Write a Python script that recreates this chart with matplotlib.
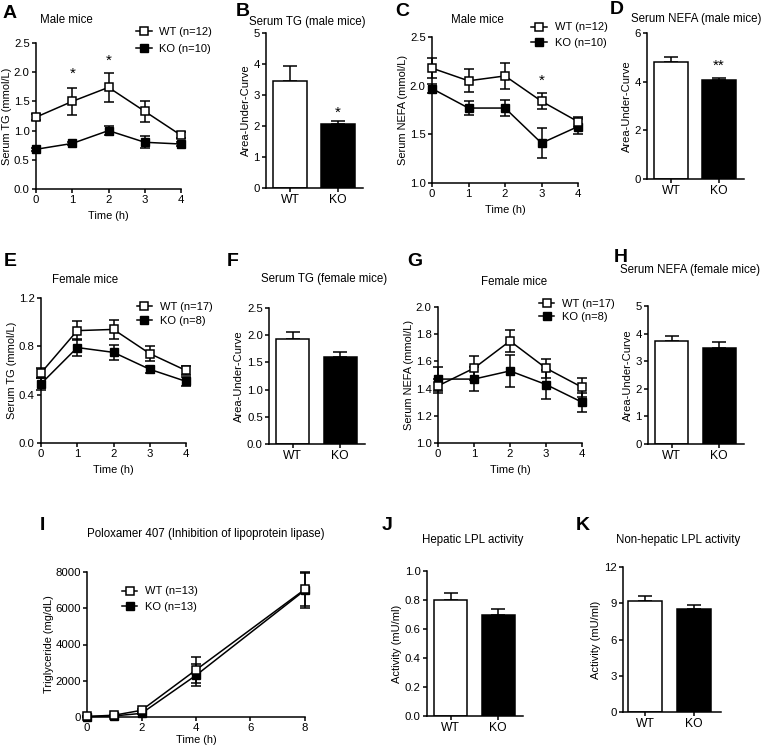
import numpy as np
import matplotlib
matplotlib.use("Agg")
import matplotlib.pyplot as plt
from matplotlib.lines import Line2D

plt.rcParams['font.family'] = ['Liberation Sans', 'DejaVu Sans']
plt.rcParams['font.size'] = 7.5
plt.rcParams['axes.linewidth'] = 1.1
plt.rcParams['xtick.major.width'] = 1.1
plt.rcParams['ytick.major.width'] = 1.1
plt.rcParams['xtick.major.size'] = 3
plt.rcParams['ytick.major.size'] = 3

W, H = 763, 752

# ---- datos ----
time_h = [0, 1, 2, 3, 4]

# A: TG machos
tg_m_wt = [1.23, 1.50, 1.74, 1.33, 0.92]
tg_m_wt_err = [0.05, 0.23, 0.25, 0.18, 0.05]
tg_m_ko = [0.68, 0.78, 1.00, 0.80, 0.77]
tg_m_ko_err = [0.03, 0.03, 0.08, 0.10, 0.03]

# C: NEFA machos
nefa_m_wt = [2.18, 2.05, 2.10, 1.84, 1.63]
nefa_m_wt_err = [0.10, 0.12, 0.13, 0.08, 0.05]
nefa_m_ko = [1.97, 1.77, 1.77, 1.41, 1.58]
nefa_m_ko_err = [0.05, 0.07, 0.08, 0.15, 0.08]

# E: TG hembras
tg_f_wt = [0.58, 0.93, 0.94, 0.74, 0.60]
tg_f_wt_err = [0.04, 0.08, 0.08, 0.06, 0.04]
tg_f_ko = [0.49, 0.79, 0.75, 0.61, 0.51]
tg_f_ko_err = [0.05, 0.07, 0.06, 0.03, 0.04]

# G: NEFA hembras
nefa_f_wt = [1.42, 1.55, 1.75, 1.55, 1.41]
nefa_f_wt_err = [0.05, 0.09, 0.08, 0.07, 0.07]
nefa_f_ko = [1.47, 1.47, 1.53, 1.43, 1.30]
nefa_f_ko_err = [0.09, 0.09, 0.12, 0.11, 0.07]

# I: Poloxamer 407
time_p407 = [0, 1, 2, 4, 8]
p407_wt = [30, 100, 370, 2600, 7050]
p407_wt_err = [20, 30, 60, 700, 900]
p407_ko = [20, 60, 200, 2300, 7000]
p407_ko_err = [15, 20, 50, 600, 1000]

# Barras (AUC y actividad)
grupos = ['WT', 'KO']
auc_tg_m = [3.45, 2.05]
auc_tg_m_err = [0.50, 0.12]
auc_nefa_m = [4.82, 4.05]
auc_nefa_m_err = [0.20, 0.12]
auc_tg_f = [1.93, 1.60]
auc_tg_f_err = [0.13, 0.09]
auc_nefa_f = [3.75, 3.48]
auc_nefa_f_err = [0.15, 0.20]
lpl_hep = [0.80, 0.70]
lpl_hep_err = [0.045, 0.04]
lpl_nohep = [9.2, 8.55]
lpl_nohep_err = [0.4, 0.3]

TICK_FS = 8.2
LABEL_FS = 7.6
TITLE_FS = 8.3
LEG_FS = 8

fig = plt.figure(figsize=(W / 100, H / 100), dpi=100)


def crear_ejes(left, right, top, bottom):
    ax = fig.add_axes([left / W, 1 - bottom / H, (right - left) / W, (bottom - top) / H])
    ax.spines['top'].set_visible(False)
    ax.spines['right'].set_visible(False)
    ax.tick_params(direction='out', pad=1.5, labelsize=TICK_FS)
    return ax


def grafico_lineas(ax, x, wt, wt_err, ko, ko_err, pad_x=4):
    ax.errorbar(x, ko, yerr=ko_err, color='black', marker='s', markersize=5.5,
                mfc='black', mec='black', lw=1.1, capsize=3.5, capthick=1.1, elinewidth=1.1,
                clip_on=False, zorder=3)
    ax.errorbar(x, wt, yerr=wt_err, color='black', marker='s', markersize=6,
                mfc='white', mec='black', mew=1.1, lw=1.1, capsize=3.5, capthick=1.1,
                elinewidth=1.1, clip_on=False, zorder=4)
    ax.set_xlabel('Time (h)', labelpad=pad_x, fontsize=LABEL_FS + 0.3)


def leyenda(ax, n_wt, n_ko, bbox, espacio):
    h_wt = Line2D([], [], color='black', lw=1.1, marker='s', markersize=6,
                  mfc='white', mec='black', mew=1.1)
    h_ko = Line2D([], [], color='black', lw=1.1, marker='s', markersize=5.5,
                  mfc='black', mec='black')
    ax.legend([h_wt, h_ko], [f'WT (n={n_wt})', f'KO (n={n_ko})'], loc='upper left',
              bbox_to_anchor=bbox, frameon=False, handlelength=1.4, handletextpad=0.7,
              labelspacing=espacio, fontsize=LEG_FS, borderaxespad=0, borderpad=0)


def grafico_barras(ax, vals, errs, ylim, yticks, ylabel='Area-Under-Curve'):
    pos = np.arange(len(grupos))
    ax.bar(pos, vals, width=0.69, color=['white', 'black'], edgecolor='black',
           linewidth=1.1, zorder=2)
    ax.errorbar(pos, vals, yerr=[[0, 0], errs], fmt='none', ecolor='black',
                elinewidth=1.1, capsize=5, capthick=1.1, zorder=1)
    ax.set_xlim(-0.5, 1.52)
    ax.set_ylim(*ylim)
    ax.set_yticks(yticks)
    ax.set_xticks(pos)
    ax.set_xticklabels(grupos, fontsize=TICK_FS + 0.5)
    ax.set_ylabel(ylabel, labelpad=2, fontsize=LABEL_FS + 0.4)


def letra(x, y, s):
    fig.text(x / W, 1 - y / H, s, fontsize=14, fontweight='bold', ha='center', va='center')


def titulo(x, y, s):
    fig.text(x / W, 1 - y / H, s, fontsize=TITLE_FS, ha='center', va='center')


# A
axA = crear_ejes(36, 181, 43, 189)
grafico_lineas(axA, time_h, tg_m_wt, tg_m_wt_err, tg_m_ko, tg_m_ko_err)
axA.set_xlim(0, 4)
axA.set_ylim(0, 2.5)
axA.set_yticks([0.0, 0.5, 1.0, 1.5, 2.0, 2.5])
axA.set_yticklabels(['0.0', '0.5', '1.0', '1.5', '2.0', '2.5'])
axA.set_ylabel('Serum TG (mmol/L)', labelpad=1, fontsize=LABEL_FS + 0.3)
axA.text(1, 1.97, '*', ha='center', va='center', fontsize=11)
axA.text(2, 2.2, '*', ha='center', va='center', fontsize=11)
leyenda(axA, 12, 10, (0.69, 1.11), 0.6)

# B
axB = crear_ejes(266, 363, 33, 188)
grafico_barras(axB, auc_tg_m, auc_tg_m_err, (0, 5), [0, 1, 2, 3, 4, 5])
axB.text(1, 2.42, '*', ha='center', va='center', fontsize=11)

# C
axC = crear_ejes(432, 578, 37, 183)
grafico_lineas(axC, time_h, nefa_m_wt, nefa_m_wt_err, nefa_m_ko, nefa_m_ko_err)
axC.set_xlim(0, 4)
axC.set_ylim(1.0, 2.5)
axC.set_yticks([1.0, 1.5, 2.0, 2.5])
axC.set_ylabel('Serum NEFA (mmol/L)', labelpad=1, fontsize=LABEL_FS + 0.3)
axC.text(3, 2.05, '*', ha='center', va='center', fontsize=11)
leyenda(axC, 12, 10, (0.68, 1.10), 0.5)

# D
axD = crear_ejes(647, 744, 33, 179)
grafico_barras(axD, auc_nefa_m, auc_nefa_m_err, (0, 6), [0, 2, 4, 6])
axD.text(1, 4.65, '**', ha='center', va='center', fontsize=11)

# E
axE = crear_ejes(41, 186, 298, 443)
grafico_lineas(axE, time_h, tg_f_wt, tg_f_wt_err, tg_f_ko, tg_f_ko_err)
axE.set_xlim(0, 4)
axE.set_ylim(0, 1.2)
axE.set_yticks([0.0, 0.4, 0.8, 1.2])
axE.set_ylabel('Serum TG (mmol/L)', labelpad=1, fontsize=LABEL_FS + 0.3)
leyenda(axE, 17, 8, (0.66, 0.97), 0.3)

# F
axF = crear_ejes(269, 365, 308, 444)
grafico_barras(axF, auc_tg_f, auc_tg_f_err, (0, 2.5), [0.0, 0.5, 1.0, 1.5, 2.0, 2.5])
axF.set_yticklabels(['0.0', '0.5', '1.0', '1.5', '2.0', '2.5'])

# G
axG = crear_ejes(438, 582, 307, 443)
grafico_lineas(axG, time_h, nefa_f_wt, nefa_f_wt_err, nefa_f_ko, nefa_f_ko_err)
axG.set_xlim(0, 4)
axG.set_ylim(1.0, 2.0)
axG.set_yticks([1.0, 1.2, 1.4, 1.6, 1.8, 2.0])
axG.set_ylabel('Serum NEFA (mmol/L)', labelpad=1, fontsize=LABEL_FS + 0.3)
leyenda(axG, 17, 8, (0.70, 1.06), 0.3)

# H
axH = crear_ejes(648, 744, 306, 444)
grafico_barras(axH, auc_nefa_f, auc_nefa_f_err, (0, 5), [0, 1, 2, 3, 4, 5])

# I
axI = crear_ejes(87, 305, 572, 717)
grafico_lineas(axI, time_p407, p407_wt, p407_wt_err, p407_ko, p407_ko_err, pad_x=1)
axI.set_xlim(0, 8)
axI.set_ylim(0, 8000)
axI.set_xticks([0, 2, 4, 6, 8])
axI.set_yticks([0, 2000, 4000, 6000, 8000])
axI.set_ylabel('Triglyceride (mg/dL)', labelpad=1, fontsize=LABEL_FS + 0.3)
leyenda(axI, 13, 13, (0.16, 0.90), 0.5)

# J
axJ = crear_ejes(427, 523, 571, 716)
grafico_barras(axJ, lpl_hep, lpl_hep_err, (0, 1.0), [0.0, 0.2, 0.4, 0.6, 0.8, 1.0],
               ylabel='Activity (mU/ml)')
axJ.set_yticklabels(['0.0', '0.2', '0.4', '0.6', '0.8', '1.0'])

# K
axK = crear_ejes(623, 721, 567, 712)
grafico_barras(axK, lpl_nohep, lpl_nohep_err, (0, 12), [0, 3, 6, 9, 12],
               ylabel='Activity (mU/ml)')
axK.set_xlim(-0.45, 1.55)

# letras de panel
letra(10, 14, 'A')
letra(243, 11, 'B')
letra(402, 11, 'C')
letra(617, 10, 'D')
letra(10, 262, 'E')
letra(233, 262, 'F')
letra(415, 262, 'G')
letra(621, 257, 'H')
letra(42, 526, 'I')
letra(387, 526, 'J')
letra(583, 526, 'K')

# titulos
titulo(66, 20, 'Male mice')
titulo(307, 22, 'Serum TG (male mice)')
titulo(477, 20, 'Male mice')
titulo(696, 19, 'Serum NEFA (male mice)')
titulo(85, 280, 'Female mice')
titulo(324, 279, 'Serum TG (female mice)')
titulo(514, 282, 'Female mice')
titulo(690, 270, 'Serum NEFA (female mice)')
titulo(206, 534, 'Poloxamer 407 (Inhibition of lipoprotein lipase)')
titulo(473, 540, 'Hepatic LPL activity')
titulo(678, 540, 'Non-hepatic LPL activity')

fig.savefig('out.png', dpi=100, facecolor='white')
